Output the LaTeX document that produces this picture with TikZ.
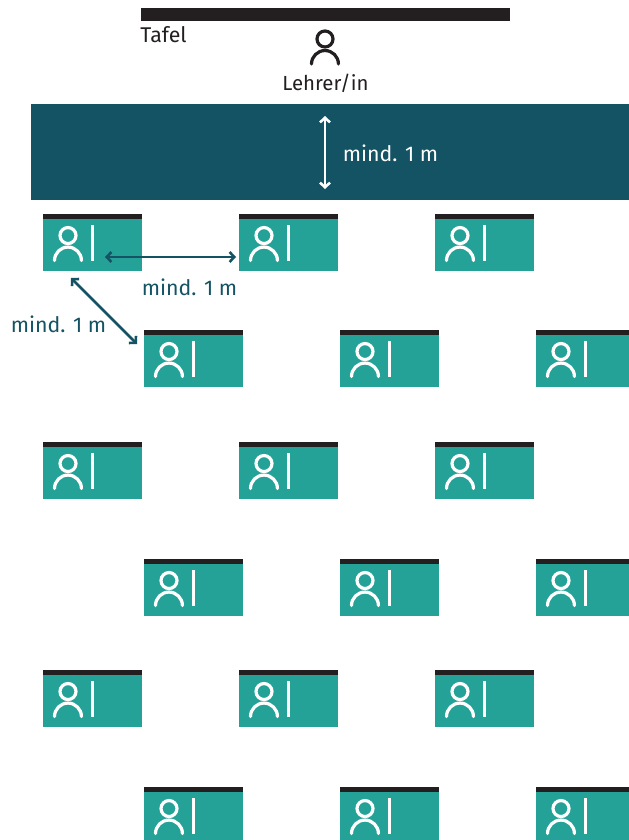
\documentclass[tikz,border=0pt]{standalone}
\usepackage{fontspec}
\setmainfont{Fira Sans}
\usepackage{xcolor}
\usetikzlibrary{arrows.meta,positioning}
\definecolor{clInk}{HTML}{231F20}
\definecolor{clBand}{HTML}{145364}
\definecolor{clDesk}{HTML}{25A298}
\tikzset{
  deskbox/.style={rectangle,minimum width=74.25pt,minimum height=39pt,
    inner sep=0pt,outer sep=0pt,fill=clDesk},
  barbox/.style={rectangle,minimum width=74.25pt,minimum height=3.75pt,
    inner sep=0pt,outer sep=0pt,fill=clInk},
  lbl/.style={font=\fontsize{16pt}{19pt}\selectfont,inner sep=0pt},
  arr/.style={{Straight Barb[length=3.5pt,width=7.5pt]}-{Straight Barb[length=3.5pt,width=7.5pt]},line width=1.9pt},
  person/.pic={
    \draw[line width=2.4pt] (0,0) circle[radius=6pt];
    \draw[line width=2.4pt,line cap=round] (-13.5,25) arc[start angle=180,end angle=0,radius=10.1pt];
  },
}
\begin{document}
\begin{tikzpicture}[x=0.75pt,y=-0.75pt]
  \clip (0,0) rectangle (629,840);
  \fill[white] (0,0) rectangle (629,840);

  \node[rectangle,minimum width=276.75pt,minimum height=9.75pt,inner sep=0pt,fill=clInk,anchor=north west] (tafel) at (141,8) {};
  \node[lbl,text=clInk,anchor=base west] (tafellbl) at (140,42) {Tafel};
  \pic[clInk] at (325,39) {person};
  \node[lbl,text=clInk,anchor=base,font=\fontsize{15.3pt}{18pt}\selectfont] (lehrer) at (325.5,90) {Lehrer/in};

  \node[rectangle,minimum width=448.5pt,minimum height=72pt,inner sep=0pt,fill=clBand,anchor=north west] (band) at (31,104) {};
  \coordinate (bandtop) at (325,116);
  \coordinate (bandbot) at (325,189);
  \draw[arr,white] (bandtop) -- (bandbot);
  \node[lbl,text=white,anchor=base] (bandlbl) at (390.5,161) {mind. 1 m};

  % tische
  \foreach \nr/\xx/\yy in {a1/43/219,a2/239/219,a3/435/219,
                           b1/144/335,b2/340/335,b3/536/335,
                           c1/43/447,c2/239/447,c3/435/447,
                           d1/144/564,d2/340/564,d3/536/564,
                           e1/43/675,e2/239/675,e3/435/675,
                           f1/144/792,f2/340/792,f3/536/792}{
    \node[deskbox,anchor=north west] (\nr) at (\xx,\yy) {};
    \node[barbox,above=0pt of \nr] (bar\nr) {};
    \pic[white] at ([xshift=18.75pt,yshift=-12.4pt]\nr.north west) {person};
    \draw[white,line width=2.1pt] ([xshift=37pt,yshift=-4.5pt]\nr.north west) -- ++(0,36);
  }

  \coordinate (hstart) at (105,257);
  \coordinate (hend) at (236,257);
  \coordinate (dstart) at (71,278);
  \coordinate (dend) at (137,344);
  \draw[arr,clBand] (hstart) -- (hend);
  \draw[arr,clBand] (dstart) -- (dend);
  \node[lbl,text=clBand,anchor=base] (hlbl) at (189.5,295) {mind. 1 m};
  \node[lbl,text=clBand,anchor=base] (dlbl) at (58.5,332) {mind. 1 m};
\end{tikzpicture}
\end{document}
